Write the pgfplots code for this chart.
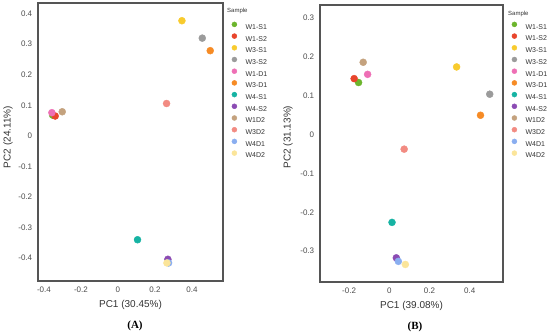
\documentclass[border=0pt]{standalone}
\usepackage{pgfplots}
\pgfplotsset{compat=1.18}
\usepackage{fontspec}
\setmainfont{Liberation Sans}
\newfontfamily\serifb{Liberation Serif}
\definecolor{cA}{HTML}{6CB52D}
\definecolor{cB}{HTML}{E8452C}
\definecolor{cC}{HTML}{F8CB2E}
\definecolor{cD}{HTML}{9B9B9B}
\definecolor{cE}{HTML}{EE6FB5}
\definecolor{cF}{HTML}{F68B25}
\definecolor{cG}{HTML}{16B3A3}
\definecolor{cH}{HTML}{8B4BB3}
\definecolor{cI}{HTML}{C4A27E}
\definecolor{cJ}{HTML}{F28B82}
\definecolor{cK}{HTML}{8AAEF0}
\definecolor{cL}{HTML}{FBE59A}
\definecolor{framegray}{HTML}{555555}
\definecolor{tickgray}{HTML}{4D4D4D}
\definecolor{labgray}{HTML}{333333}
\pgfplotsset{pcastyle/.style={
  scale only axis, anchor=north west,
  axis line style={draw=framegray, line width=1.2pt},
  major tick length=0pt,
  tick label style={font=\fontsize{8}{9}\selectfont, text=tickgray},
  xticklabel style={yshift=-2.5pt},
  yticklabel style={xshift=-2.3pt},
  label style={font=\fontsize{10}{12}\selectfont, text=labgray},
  xlabel style={at={(axis description cs:0.5,0)}, anchor=center, yshift=-24pt},
  /pgf/number format/assume math mode=true,
  legend cell align=left,
  legend style={draw=none, fill=none, at={(1,1)}, anchor=north west, inner sep=0pt,
    font=\fontsize{7}{7}\selectfont, text=labgray, row sep=4.1pt,
    nodes={inner sep=0pt, text height=5pt, text depth=0pt},
    /tikz/every odd column/.append style={column sep=8.5pt}},
  legend image code/.code={\fill (0pt,2.4pt) circle (2.5pt);},
  every axis plot/.append style={only marks, mark=*, mark size=3.5pt},
  clip=false,
}}
\begin{document}
\begin{tikzpicture}
\useasboundingbox (0pt,0pt) rectangle (550pt,-334pt);
% Panel A
\begin{axis}[pcastyle, at={(38pt,-3pt)}, width=185pt, height=278pt,
  xmin=-0.432, xmax=0.568, ymin=-0.475, ymax=0.435,
  xtick={-0.4,-0.2,0,0.2,0.4}, ytick={-0.4,-0.3,-0.2,-0.1,0,0.1,0.2,0.3,0.4},
  xlabel={PC1 (30.45\%)}, ylabel={PC2 (24.11\%)},
  ylabel style={at={(axis description cs:-0.162,0.518)}, anchor=center},
  legend style={xshift=8.5pt, yshift=-18.5pt}]
\addplot[color=cA] coordinates {(-0.353,0.068)}; \addlegendentry{W1-S1}
\addplot[color=cB] coordinates {(-0.339,0.065)}; \addlegendentry{W1-S2}
\addplot[color=cC] coordinates {(0.346,0.377)}; \addlegendentry{W3-S1}
\addplot[color=cD] coordinates {(0.456,0.320)}; \addlegendentry{W3-S2}
\addplot[color=cE] coordinates {(-0.357,0.076)}; \addlegendentry{W1-D1}
\addplot[color=cF] coordinates {(0.499,0.279)}; \addlegendentry{W3-D1}
\addplot[color=cG] coordinates {(0.106,-0.340)}; \addlegendentry{W4-S1}
\addplot[color=cH] coordinates {(0.270,-0.404)}; \addlegendentry{W4-S2}
\addplot[color=cI] coordinates {(-0.301,0.079)}; \addlegendentry{W1D2}
\addplot[color=cJ] coordinates {(0.263,0.106)}; \addlegendentry{W3D2}
\addplot[color=cK] coordinates {(0.274,-0.416)}; \addlegendentry{W4D1}
\addplot[color=cL] coordinates {(0.265,-0.416)}; \addlegendentry{W4D2}
\node[anchor=west, inner sep=0pt, xshift=4pt, yshift=-8pt, font=\fontsize{6}{7}\selectfont, text=labgray] at (axis description cs:1,1) {Sample};
\end{axis}
% Panel B
\begin{axis}[pcastyle, at={(320pt,-5pt)}, width=183pt, height=277pt,
  xmin=-0.345, xmax=0.566, ymin=-0.379, ymax=0.332,
  xtick={-0.2,0,0.2,0.4}, ytick={-0.3,-0.2,-0.1,0,0.1,0.2,0.3},
  xlabel={PC1 (39.08\%)}, ylabel={PC2 (31.13\%)},
  ylabel style={at={(axis description cs:-0.175,0.523)}, anchor=center},
  legend style={xshift=8.5pt, yshift=-16.5pt}]
\addplot[color=cA] coordinates {(-0.153,0.133)}; \addlegendentry{W1-S1}
\addplot[color=cB] coordinates {(-0.175,0.143)}; \addlegendentry{W1-S2}
\addplot[color=cC] coordinates {(0.335,0.173)}; \addlegendentry{W3-S1}
\addplot[color=cD] coordinates {(0.500,0.103)}; \addlegendentry{W3-S2}
\addplot[color=cE] coordinates {(-0.108,0.154)}; \addlegendentry{W1-D1}
\addplot[color=cF] coordinates {(0.454,0.049)}; \addlegendentry{W3-D1}
\addplot[color=cG] coordinates {(0.0135,-0.226)}; \addlegendentry{W4-S1}
\addplot[color=cH] coordinates {(0.035,-0.317)}; \addlegendentry{W4-S2}
\addplot[color=cI] coordinates {(-0.130,0.185)}; \addlegendentry{W1D2}
\addplot[color=cJ] coordinates {(0.074,-0.038)}; \addlegendentry{W3D2}
\addplot[color=cK] coordinates {(0.045,-0.326)}; \addlegendentry{W4D1}
\addplot[color=cL] coordinates {(0.080,-0.334)}; \addlegendentry{W4D2}
\node[anchor=west, inner sep=0pt, xshift=5pt, yshift=-9pt, font=\fontsize{6}{7}\selectfont, text=labgray] at (axis description cs:1,1) {Sample};
\end{axis}
\node[font=\serifb\bfseries\fontsize{11}{12}\selectfont] at (135pt,-326pt) {(A)};
\node[font=\serifb\bfseries\fontsize{11}{12}\selectfont] at (415pt,-327pt) {(B)};
\end{tikzpicture}
\end{document}
